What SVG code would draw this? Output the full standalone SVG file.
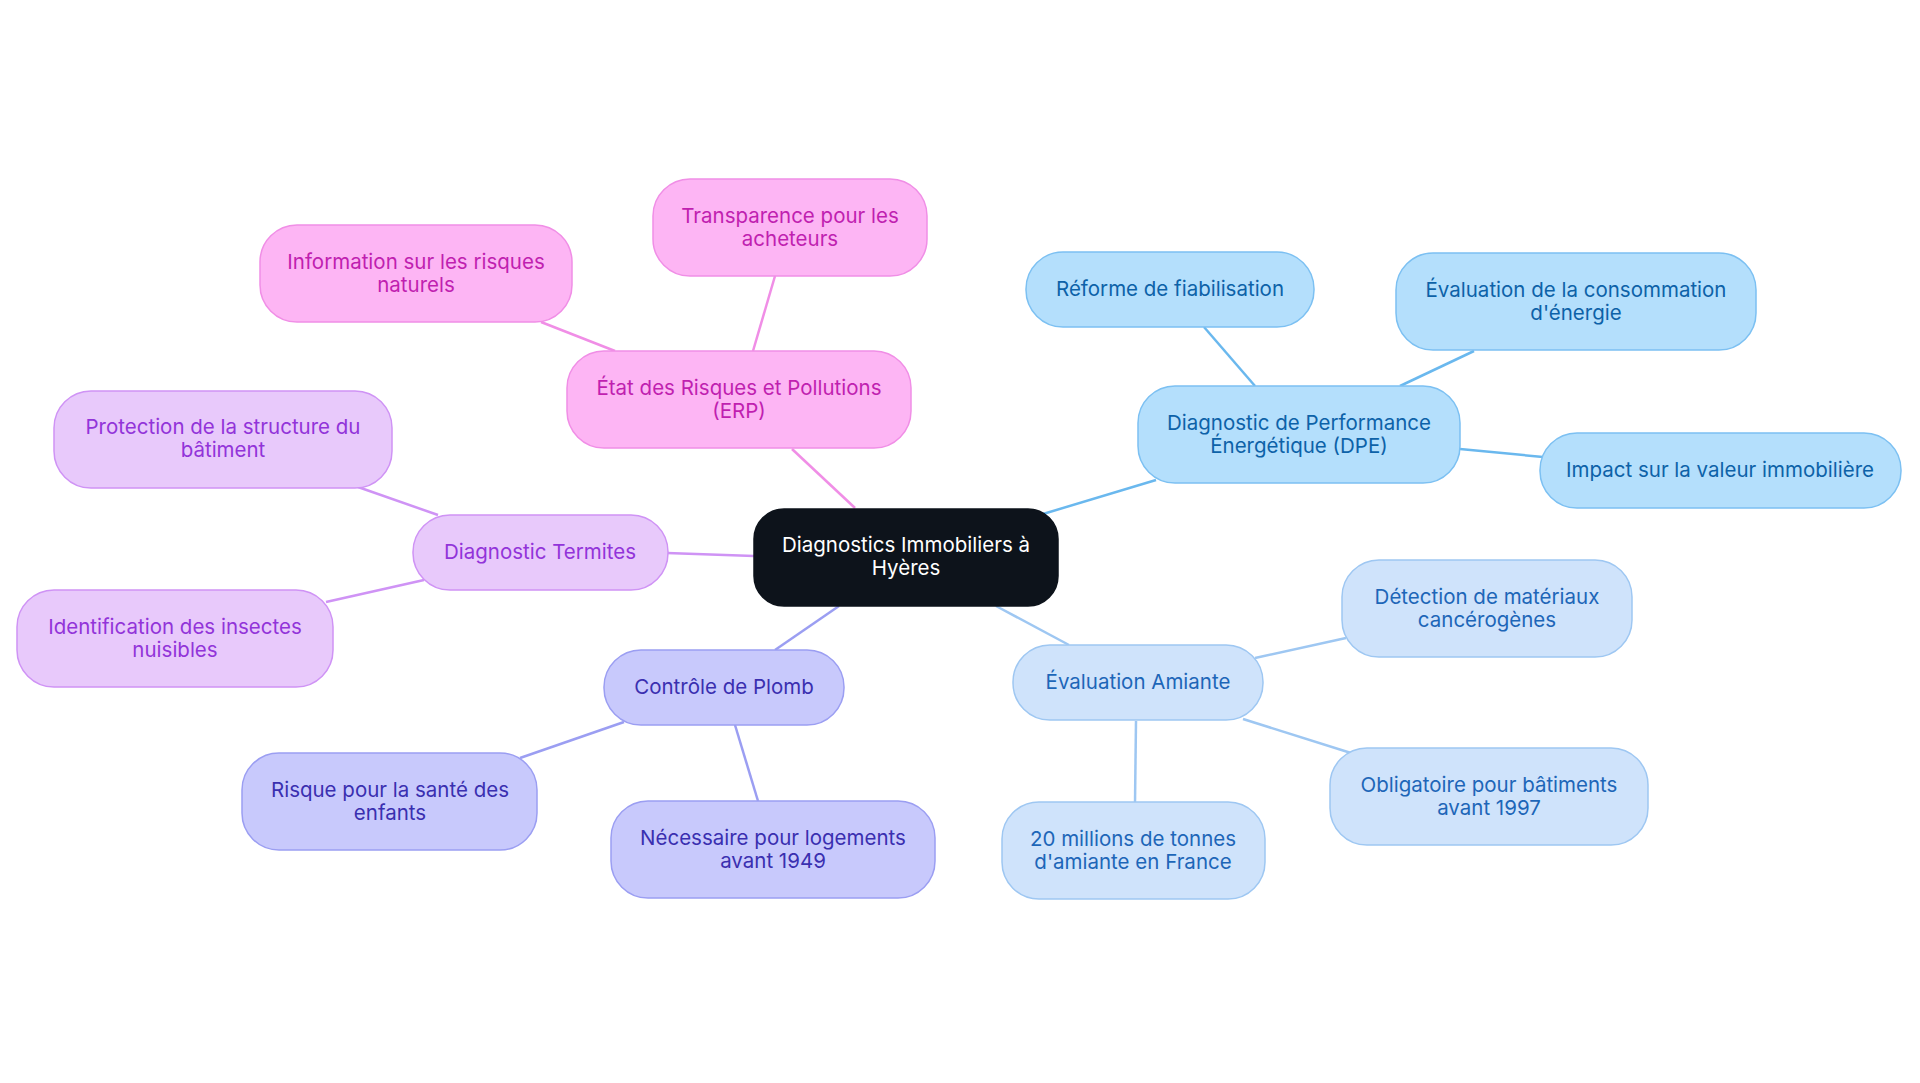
<svg xmlns="http://www.w3.org/2000/svg" width="1920" height="1083" viewBox="0 0 1920 1083">
<style>
text{font-family:Inter,"Noto Sans",sans-serif;font-size:20.5px;text-anchor:middle}
rect{stroke-width:1.5}
.pk rect{fill:#fdb5f4;stroke:#f08ee6}.pk text{fill:#c01fb0}
.pu rect{fill:#e8c9fb;stroke:#cf93f5}.pu text{fill:#9234d9}
.in rect{fill:#c8c9fc;stroke:#9b9ef2}.in text{fill:#3a2fb0}
.bl rect{fill:#b4dffc;stroke:#7cc0f2}.bl text{fill:#0d62a8}
.lb rect{fill:#cfe3fb;stroke:#9ec7f2}.lb text{fill:#1d66b8}
line{stroke-width:2.5}
</style>
<rect width="1920" height="1083" fill="#fff"/>
<g id="edges">
<line x1="855" y1="508" x2="792" y2="449" stroke="#f08ee6"/>
<line x1="753" y1="351" x2="775" y2="276" stroke="#f08ee6"/>
<line x1="615" y1="351" x2="541" y2="322" stroke="#f08ee6"/>
<line x1="754" y1="556" x2="667" y2="553" stroke="#cf93f5"/>
<line x1="438" y1="515" x2="358" y2="487" stroke="#cf93f5"/>
<line x1="424" y1="580" x2="326" y2="602" stroke="#cf93f5"/>
<line x1="839" y1="606" x2="775" y2="650" stroke="#9b9ef2"/>
<line x1="624" y1="722" x2="520" y2="758" stroke="#9b9ef2"/>
<line x1="735" y1="725" x2="758" y2="801" stroke="#9b9ef2"/>
<line x1="1043" y1="514" x2="1156" y2="480" stroke="#6ab8ee"/>
<line x1="1255" y1="386" x2="1204" y2="327" stroke="#6ab8ee"/>
<line x1="1400" y1="386" x2="1474" y2="351" stroke="#6ab8ee"/>
<line x1="1460" y1="449" x2="1543" y2="457" stroke="#6ab8ee"/>
<line x1="996" y1="606" x2="1069" y2="645" stroke="#9ec7f2"/>
<line x1="1255" y1="658" x2="1346" y2="638" stroke="#9ec7f2"/>
<line x1="1243" y1="719" x2="1351" y2="753" stroke="#9ec7f2"/>
<line x1="1136" y1="721" x2="1135" y2="803" stroke="#9ec7f2"/>
</g>
<g id="center"><rect x="754" y="509" width="304" height="97" rx="30" fill="#0d131b" stroke="#0d131b"/><text x="906" y="552" fill="#fff">Diagnostics Immobiliers à</text><text x="906" y="575" fill="#fff">Hyères</text></g>
<g id="erp" class="pk"><rect x="567" y="351" width="344" height="97" rx="37"/><text x="739" y="395">État des Risques et Pollutions</text><text x="739" y="418">(ERP)</text></g>
<g id="transp" class="pk"><rect x="653" y="179" width="274" height="97" rx="37"/><text x="790" y="223">Transparence pour les</text><text x="790" y="246">acheteurs</text></g>
<g id="info" class="pk"><rect x="260" y="225" width="312" height="97" rx="37"/><text x="416" y="269">Information sur les risques</text><text x="416" y="292">naturels</text></g>
<g id="termites" class="pu"><rect x="413" y="515" width="255" height="75" rx="37"/><text x="540" y="559">Diagnostic Termites</text></g>
<g id="protection" class="pu"><rect x="54" y="391" width="338" height="97" rx="37"/><text x="223" y="434">Protection de la structure du</text><text x="223" y="457">bâtiment</text></g>
<g id="ident" class="pu"><rect x="17" y="590" width="316" height="97" rx="37"/><text x="175" y="634">Identification des insectes</text><text x="175" y="657">nuisibles</text></g>
<g id="plomb" class="in"><rect x="604" y="650" width="240" height="75" rx="37"/><text x="724" y="694">Contrôle de Plomb</text></g>
<g id="risque" class="in"><rect x="242" y="753" width="295" height="97" rx="37"/><text x="390" y="797">Risque pour la santé des</text><text x="390" y="820">enfants</text></g>
<g id="necess" class="in"><rect x="611" y="801" width="324" height="97" rx="37"/><text x="773" y="845">Nécessaire pour logements</text><text x="773" y="868">avant 1949</text></g>
<g id="dpe" class="bl"><rect x="1138" y="386" width="322" height="97" rx="37"/><text x="1299" y="430">Diagnostic de Performance</text><text x="1299" y="453">Énergétique (DPE)</text></g>
<g id="reforme" class="bl"><rect x="1026" y="252" width="288" height="75" rx="37"/><text x="1170" y="296">Réforme de fiabilisation</text></g>
<g id="evalc" class="bl"><rect x="1396" y="253" width="360" height="97" rx="37"/><text x="1576" y="297">Évaluation de la consommation</text><text x="1576" y="320">d'énergie</text></g>
<g id="impact" class="bl"><rect x="1540" y="433" width="361" height="75" rx="37"/><text x="1720" y="477">Impact sur la valeur immobilière</text></g>
<g id="amiante" class="lb"><rect x="1013" y="645" width="250" height="75" rx="37"/><text x="1138" y="689">Évaluation Amiante</text></g>
<g id="detect" class="lb"><rect x="1342" y="560" width="290" height="97" rx="37"/><text x="1487" y="604">Détection de matériaux</text><text x="1487" y="627">cancérogènes</text></g>
<g id="oblig" class="lb"><rect x="1330" y="748" width="318" height="97" rx="37"/><text x="1489" y="792">Obligatoire pour bâtiments</text><text x="1489" y="815">avant 1997</text></g>
<g id="millions" class="lb"><rect x="1002" y="802" width="263" height="97" rx="37"/><text x="1133" y="846">20 millions de tonnes</text><text x="1133" y="869">d'amiante en France</text></g>
</svg>
